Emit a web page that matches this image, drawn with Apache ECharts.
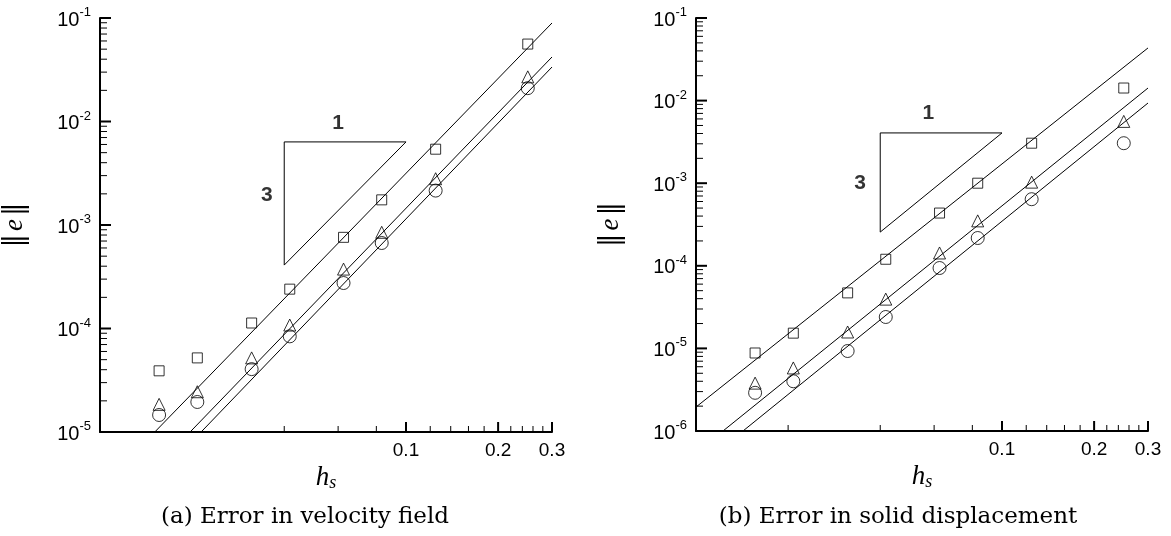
<!DOCTYPE html>
<html>
<head>
<meta charset="utf-8">
<script src="https://cdn.jsdelivr.net/npm/echarts@6/dist/echarts.min.js"></script>
<style>
html, body { margin: 0; padding: 0; background: #fff; }
#chart { width: 1171px; height: 536px; }
</style>
</head>
<body>
<div id="chart"></div>
<script>
// mesh size h_s
var hs = [0.0156, 0.0208, 0.0313, 0.0417, 0.0625, 0.0833, 0.125, 0.25];

// (a) error in velocity field
var velSquare   = [3.9e-5, 5.2e-5, 1.13e-4, 2.4e-4, 7.6e-4, 1.75e-3, 5.4e-3, 5.6e-2];
var velTriangle = [1.85e-5, 2.45e-5, 5.2e-5, 1.08e-4, 3.75e-4, 8.5e-4, 2.8e-3, 2.7e-2];
var velCircle   = [1.46e-5, 1.95e-5, 4.05e-5, 8.4e-5, 2.75e-4, 6.7e-4, 2.15e-3, 2.1e-2];
var velFitSquare   = [[0.0151, 1e-5], [0.3, 0.0895]];
var velFitTriangle = [[0.0197, 1e-5], [0.3, 0.042]];
var velFitCircle   = [[0.0214, 1e-5], [0.3, 0.0336]];
var velSlope = [[0.04, 4.1e-4], [0.04, 6.35e-3], [0.1, 6.35e-3], [0.04, 4.1e-4]];
var velSlopeText = [['1', 0.06, 9.7e-3], ['3', 0.0351, 1.95e-3]];

// (b) error in solid displacement
var dispSquare   = [8.8e-6, 1.53e-5, 4.7e-5, 1.2e-4, 4.35e-4, 1.0e-3, 3.05e-3, 1.42e-2];
var dispTriangle = [3.8e-6, 5.8e-6, 1.58e-5, 3.95e-5, 1.43e-4, 3.5e-4, 1.03e-3, 5.6e-3];
var dispCircle   = [2.9e-6, 4.0e-6, 9.3e-6, 2.4e-5, 9.4e-5, 2.17e-4, 6.4e-4, 3.05e-3];
var dispFitSquare   = [[0.01, 1.95e-6], [0.3, 0.0434]];
var dispFitTriangle = [[0.01225, 1e-6], [0.3, 0.0142]];
var dispFitCircle   = [[0.01424, 1e-6], [0.3, 9.35e-3]];
var dispSlope = [[0.04, 2.56e-4], [0.04, 4.06e-3], [0.1, 4.06e-3], [0.04, 2.56e-4]];
var dispSlopeText = [['1', 0.0574, 7.1e-3], ['3', 0.0344, 1.0e-3]];

// ticks
var xMajor = [0.1, 0.2, 0.3];
var xMinorA = [0.04, 0.06, 0.08, 0.12, 0.14, 0.16, 0.18, 0.22, 0.24, 0.26, 0.28];
var xMinorB = [0.02, 0.04, 0.06, 0.08, 0.12, 0.14, 0.16, 0.18, 0.22, 0.24, 0.26, 0.28];
var yMajorA = [1e-5, 1e-4, 1e-3, 1e-2, 1e-1];
var yMajorB = [1e-6, 1e-5, 1e-4, 1e-3, 1e-2, 1e-1];
var captions = ['(a) Error in velocity field', '(b) Error in solid displacement'];

var X_MIN = 0.01, X_MAX = 0.3, Y_MAX = 0.1;

function minorsOf(majors) {
    var out = [];
    for (var i = 0; i < majors.length - 1; i++) {
        for (var k = 2; k <= 9; k++) out.push(majors[i] * k);
    }
    return out;
}

var sans = 'Liberation Sans, Arial, sans-serif';
var serif = 'Liberation Serif, Times New Roman, serif';

var grids = [
    { left: 100, top: 18, width: 452, height: 414 },
    { left: 696, top: 18, width: 452, height: 413 }
];

var xAxes = [], yAxes = [], series = [];

// inward tick marks: thin filled bars placed on the axes, drawn on an upper layer
function tickMarks(gi, points, size, offset) {
    return {
        type: 'scatter', xAxisIndex: gi, yAxisIndex: gi,
        symbol: 'rect', symbolSize: size, symbolOffset: offset,
        clip: false, silent: true, zlevel: 1, z: 10,
        itemStyle: { color: '#000', borderWidth: 0, opacity: 1 },
        data: points
    };
}

function addPanel(gi, yMin, xMinor, yMajor, sq, tr, ci, fits, slope, slopeText) {
    xAxes.push({
        type: 'log', logBase: 10, gridIndex: gi, min: X_MIN, max: X_MAX,
        axisLine: { show: true, onZero: false, lineStyle: { color: '#000', width: 2 } },
        axisTick: { show: false },
        axisLabel: {
            show: true, customValues: xMajor, margin: 9, color: '#000', fontFamily: sans, fontSize: 19,
            formatter: function (v) { return String(Math.round(v * 10) / 10); }
        },
        splitLine: { show: false },
        name: '{h|h}{s|s}', nameLocation: 'middle', nameGap: 29,
        nameTextStyle: {
            rich: {
                h: { fontFamily: serif, fontStyle: 'italic', fontSize: 27, color: '#000' },
                s: { fontFamily: serif, fontStyle: 'italic', fontSize: 18, color: '#000', verticalAlign: 'bottom', padding: [10, 0, 0, 0] }
            }
        }
    });
    yAxes.push({
        type: 'log', logBase: 10, gridIndex: gi, min: yMin, max: Y_MAX,
        axisLine: { show: true, onZero: false, lineStyle: { color: '#000', width: 2 } },
        axisTick: { show: false },
        axisLabel: {
            show: true, customValues: yMajor, margin: 9, color: '#000',
            formatter: function (v) { return '{b|10}{s|' + Math.round(Math.log10(v)) + '}'; },
            rich: {
                b: { fontFamily: sans, fontSize: 20, color: '#000', padding: [4, 0, 0, 0] },
                s: { fontFamily: sans, fontSize: 13, color: '#000', verticalAlign: 'top' }
            }
        },
        splitLine: { show: false },
        name: '{v|\u2016}{e|e}{v|\u2016}', nameLocation: 'middle', nameRotate: 90, nameGap: 72,
        nameTextStyle: {
            rich: {
                v: { fontFamily: 'DejaVu Serif', fontSize: 27, color: '#000' },
                e: { fontFamily: serif, fontStyle: 'italic', fontSize: 27, color: '#000', padding: [0, 3, 0, 3] }
            }
        }
    });

    // x ticks stand on the bottom edge, y ticks stick out from the left edge
    series.push(tickMarks(gi, xMajor.map(function (v) { return [v, yMin]; }), [2, 10], [0, -5]));
    series.push(tickMarks(gi, xMinor.map(function (v) { return [v, yMin]; }), [1, 6], [0, -3]));
    series.push(tickMarks(gi, yMajor.map(function (v) { return [X_MIN, v]; }), [11, 2], [5.5, 0]));
    series.push(tickMarks(gi, minorsOf(yMajor).map(function (v) { return [X_MIN, v]; }), [7, 1], [3.5, 0]));

    var markers = [['rect', 10, sq], ['triangle', 12, tr], ['circle', 13, ci]];
    markers.forEach(function (m) {
        series.push({
            type: 'scatter', xAxisIndex: gi, yAxisIndex: gi,
            symbol: m[0], symbolSize: m[1],
            itemStyle: { color: 'rgba(0,0,0,0)', borderColor: '#000', borderWidth: 1 },
            data: hs.map(function (h, i) { return [h, m[2][i]]; }),
            z: 3
        });
    });
    fits.forEach(function (f) {
        series.push({
            type: 'line', xAxisIndex: gi, yAxisIndex: gi, symbol: 'none',
            lineStyle: { color: '#000', width: 1 }, data: f, z: 2
        });
    });
    series.push({
        type: 'line', xAxisIndex: gi, yAxisIndex: gi, symbol: 'none',
        lineStyle: { color: '#000', width: 1 }, data: slope, z: 2
    });
    series.push({
        type: 'scatter', xAxisIndex: gi, yAxisIndex: gi, symbolSize: 1,
        itemStyle: { color: 'rgba(0,0,0,0)' },
        label: { show: true, position: 'inside', formatter: '{b}', color: '#000', fontFamily: sans, fontWeight: 'bold', fontSize: 21 },
        data: slopeText.map(function (t) { return { name: t[0], value: [t[1], t[2]] }; })
    });
}

addPanel(0, 1e-5, xMinorA, yMajorA, velSquare, velTriangle, velCircle,
    [velFitSquare, velFitTriangle, velFitCircle], velSlope, velSlopeText);
addPanel(1, 1e-6, xMinorB, yMajorB, dispSquare, dispTriangle, dispCircle,
    [dispFitSquare, dispFitTriangle, dispFitCircle], dispSlope, dispSlopeText);

var myChart = echarts.init(document.getElementById('chart'));
var option = {
    backgroundColor: '#fff',
    animation: false,
    grid: grids,
    xAxis: xAxes,
    yAxis: yAxes,
    series: series,
    graphic: [
        { type: 'text', x: 305, y: 517, style: { text: captions[0], font: '23px "DejaVu Serif"', fill: '#000', textAlign: 'center', textVerticalAlign: 'middle' } },
        { type: 'text', x: 898, y: 517, style: { text: captions[1], font: '23px "DejaVu Serif"', fill: '#000', textAlign: 'center', textVerticalAlign: 'middle' } }
    ]
};
myChart.setOption(option);
window.addEventListener('resize', function () {
    myChart.resize();
});
</script>
</body>
</html>
